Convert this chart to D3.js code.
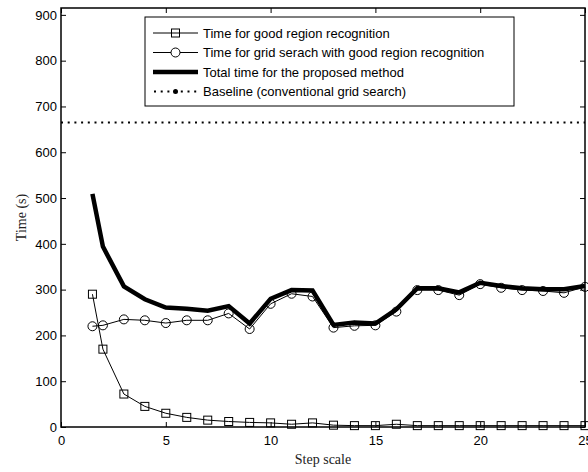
<!DOCTYPE html>
<html lang="en">
<head>
<meta charset="utf-8">
<title>Step scale vs time</title>
<script src="https://cdn.jsdelivr.net/npm/d3@7"></script>
<style>
  body { margin: 0; background: #fff; }
  .tick text { font-family: "Liberation Sans", Arial, sans-serif; font-size: 13px; fill: #000; }
  .lab { font-family: "Liberation Serif", "Times New Roman", serif; font-size: 14px; fill: #222; }
  .leg { font-family: "Liberation Sans", Arial, sans-serif; font-size: 13px; fill: #000; }
</style>
</head>
<body>
<script>
// step scale values
var steps = [1.5, 2, 3, 4, 5, 6, 7, 8, 9, 10, 11, 12, 13, 14, 15, 16, 17, 18, 19, 20, 21, 22, 23, 24, 25];
// time for good region recognition (s)
var regionTime = [290, 170, 72, 45, 30, 21, 15, 12, 10, 9, 6, 9, 4, 3, 3, 6, 3, 3, 3, 3, 3, 3, 3, 3, 3];
// time for grid search with good region recognition (s)
var gridTime = [220, 222, 235, 233, 227, 233, 233, 248, 214, 269, 291, 285, 217, 221, 222, 252, 299, 299, 288, 312, 304, 299, 297, 293, 306];
// total time for proposed method (s)
var totalTime = [509, 394, 307, 279, 261, 258, 254, 264, 226, 280, 299, 298, 223, 228, 226, 257, 303, 303, 294, 315, 308, 303, 301, 301, 308];
// conventional grid search baseline (s)
var baseline = 665;

var xTicks = [0, 5, 10, 15, 20, 25];
var yTicks = [0, 100, 200, 300, 400, 500, 600, 700, 800, 900];

var W = 588, H = 472;
var L = 61, R = 585, T = 8, B = 427;

var svg = d3.select("body").append("svg").attr("width", W).attr("height", H);

var x = d3.scaleLinear().domain([0, 25]).range([L, R]);
var y = d3.scaleLinear().domain([0, 915]).range([B, T]);

// axes, ticks inward on all four sides
svg.append("g").attr("transform", "translate(0," + B + ")")
  .call(d3.axisBottom(x).tickValues(xTicks).tickSize(-5).tickPadding(9))
  .call(function(g) { g.select(".domain").remove(); });
svg.append("g").attr("transform", "translate(" + L + ",0)")
  .call(d3.axisLeft(y).tickValues(yTicks).tickSize(-5).tickPadding(4))
  .call(function(g) { g.select(".domain").remove(); });
svg.append("g").attr("transform", "translate(0," + T + ")")
  .call(d3.axisTop(x).tickValues(xTicks).tickSize(-5).tickFormat(""))
  .call(function(g) { g.select(".domain").remove(); });
svg.append("g").attr("transform", "translate(" + R + ",0)")
  .call(d3.axisRight(y).tickValues(yTicks).tickSize(-5).tickFormat(""))
  .call(function(g) { g.select(".domain").remove(); });
svg.selectAll(".tick line").attr("stroke", "#000");

svg.append("rect").attr("x", L).attr("y", T).attr("width", R - L).attr("height", B - T)
  .attr("fill", "none").attr("stroke", "#000").attr("stroke-width", 1.5);

// baseline
svg.append("line")
  .attr("x1", x(0)).attr("x2", x(25)).attr("y1", y(baseline)).attr("y2", y(baseline))
  .attr("stroke", "#000").attr("stroke-width", 2).attr("stroke-dasharray", "2 4.7");

var line = function(vals) {
  return d3.line().x(function(d, i) { return x(steps[i]); }).y(function(d) { return y(d); })(vals);
};

// region time with squares
svg.append("path").attr("d", line(regionTime)).attr("fill", "none").attr("stroke", "#000").attr("stroke-width", 1);
svg.selectAll(".sq").data(regionTime).enter().append("rect")
  .attr("x", function(d, i) { return x(steps[i]) - 4; })
  .attr("y", function(d) { return y(d) - 4; })
  .attr("width", 8).attr("height", 8)
  .attr("fill", "none").attr("stroke", "#000").attr("stroke-width", 1);

// grid time with circles
svg.append("path").attr("d", line(gridTime)).attr("fill", "none").attr("stroke", "#000").attr("stroke-width", 1);
svg.selectAll(".ci").data(gridTime).enter().append("circle")
  .attr("cx", function(d, i) { return x(steps[i]); })
  .attr("cy", function(d) { return y(d); })
  .attr("r", 4.5)
  .attr("fill", "none").attr("stroke", "#000").attr("stroke-width", 1);

// total time, thick
svg.append("path").attr("d", line(totalTime)).attr("fill", "none").attr("stroke", "#000")
  .attr("stroke-width", 4.5).attr("stroke-linejoin", "miter");

// axis labels
svg.append("text").attr("class", "lab").attr("x", (L + R) / 2).attr("y", 464)
  .attr("text-anchor", "middle").text("Step scale");
svg.append("text").attr("class", "lab")
  .attr("transform", "translate(26," + ((T + B) / 2) + ") rotate(-90)")
  .attr("text-anchor", "middle").text("Time (s)");

// legend
var lg = svg.append("g");
lg.append("rect").attr("x", 145).attr("y", 17).attr("width", 369).attr("height", 89)
  .attr("fill", "#fff").attr("stroke", "#000").attr("stroke-width", 1);
var legendNames = ["Time for good region recognition",
  "Time for grid serach with good region recognition",
  "Total time for the proposed method",
  "Baseline (conventional grid search)"];
var rows = [33, 52.5, 72, 91.5];
var sx1 = 153, sx2 = 198, sxm = 175.5;

lg.append("line").attr("x1", sx1).attr("x2", sx2).attr("y1", rows[0]).attr("y2", rows[0]).attr("stroke", "#000");
lg.append("rect").attr("x", sxm - 4).attr("y", rows[0] - 4).attr("width", 8).attr("height", 8)
  .attr("fill", "none").attr("stroke", "#000");
lg.append("line").attr("x1", sx1).attr("x2", sx2).attr("y1", rows[1]).attr("y2", rows[1]).attr("stroke", "#000");
lg.append("circle").attr("cx", sxm).attr("cy", rows[1]).attr("r", 4.5).attr("fill", "#fff").attr("stroke", "#000");
lg.append("line").attr("x1", sx1).attr("x2", sx2).attr("y1", rows[2]).attr("y2", rows[2])
  .attr("stroke", "#000").attr("stroke-width", 4.5);
lg.append("line").attr("x1", sx1 + 1).attr("x2", sx2).attr("y1", rows[3]).attr("y2", rows[3])
  .attr("stroke", "#000").attr("stroke-width", 2).attr("stroke-dasharray", "2 4.7");
lg.append("circle").attr("cx", sxm).attr("cy", rows[3]).attr("r", 2.5).attr("fill", "#000");

lg.selectAll(".leg").data(legendNames).enter().append("text").attr("class", "leg")
  .attr("x", 203).attr("y", function(d, i) { return rows[i] + 4.5; })
  .text(function(d) { return d; });
</script>
</body>
</html>
